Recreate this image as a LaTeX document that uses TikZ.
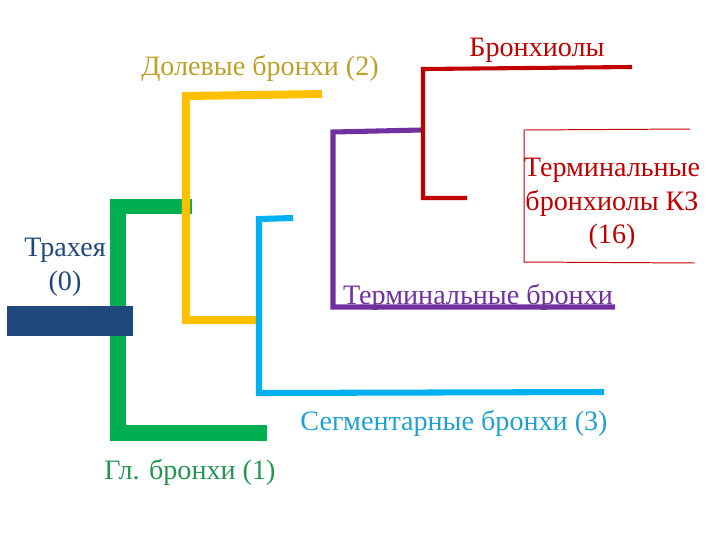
\documentclass[tikz,border=0pt]{standalone}
\usepackage{fontspec}
\setmainfont{Liberation Serif}

\definecolor{trachblue}{RGB}{31,73,125}
\definecolor{mainbr}{RGB}{0,176,80}
\definecolor{mainbrtxt}{RGB}{34,150,80}
\definecolor{lobebr}{RGB}{255,192,0}
\definecolor{lobebrtxt}{RGB}{190,160,40}
\definecolor{segbr}{RGB}{0,176,240}
\definecolor{segbrtxt}{RGB}{30,160,210}
\definecolor{termbr}{RGB}{112,48,160}
\definecolor{bronchiole}{RGB}{192,0,0}

\begin{document}
\begin{tikzpicture}[x=0.025cm, y=-0.025cm,
    lbl/.style={align=center, font=\fontsize{20}{24}\selectfont, inner sep=0pt},
    branch/.style={line join=miter, line cap=butt}]
    \useasboundingbox (0,0) rectangle (720,540);

    % main bronchi (green)
    \draw[branch, mainbr, line width=10.7pt] (192,206.5) -- (118,206.5) -- (118,433) -- (267,433);
    % trachea
    \fill[trachblue] (7,306) rectangle (133,336);
    % lobar bronchi (yellow)
    \draw[branch, lobebr, line width=5.7pt] (322,94) -- (186,96) -- (186,320) -- (258,320);
    % segmental bronchi (blue)
    \draw[branch, segbr, line width=4.3pt] (293,218) -- (259,219) -- (259,393) -- (604,392);
    % terminal bronchi (purple)
    \draw[branch, termbr, line width=3.6pt] (421,130) -- (333,132) -- (333,307) -- (615,307);
    % bronchioles (red)
    \draw[branch, bronchiole, line width=2.9pt] (632,67) -- (423,69) -- (423,198) -- (467,198);
    % bracket round the terminal bronchioles
    \draw[bronchiole, line width=0.7pt] (690,129) -- (524,130) -- (524,262) -- (695,263);

    % labels
    \node[lbl, text=trachblue] (T) at (65,267) {Трахея\\(0)};
    \node[lbl, text=lobebrtxt] (L) at (260,68) {Долевые бронхи (2)};
    \node[lbl, text=bronchiole] (B) at (537,50) {Бронхиолы};
    \node[lbl, text=bronchiole] (K) at (612,204) {Терминальные\\бронхиолы КЗ\\(16)};
    \node[lbl, text=termbr] (P) at (478,297) {Терминальные бронхи};
    \node[lbl, text=segbrtxt] (S) at (454,423) {Сегментарные бронхи (3)};
    \node[lbl, text=mainbrtxt] (G) at (190,472) {Гл. бронхи (1)};

\end{tikzpicture}
\end{document}
